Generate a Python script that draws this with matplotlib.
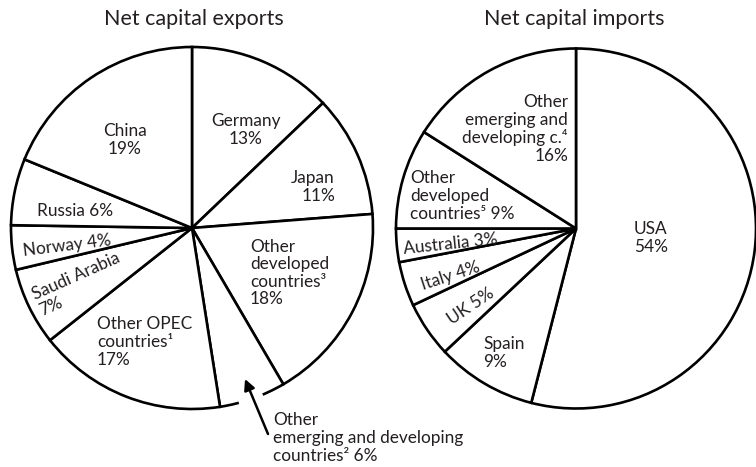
import matplotlib
matplotlib.use('Agg')
import matplotlib.pyplot as plt
from matplotlib.patches import Arc

plt.rcParams['font.family'] = ['Lato', 'DejaVu Sans']

# Net capital exports (clockwise from top)
export_labels = ['Germany', 'Japan', 'Other developed countries', 'Other emerging and developing countries',
                 'Other OPEC countries', 'Saudi Arabia', 'Norway', 'Russia', 'China']
export_shares = [13, 11, 18, 6, 17, 7, 4, 6, 19]

# Net capital imports (clockwise from top)
import_labels = ['USA', 'Spain', 'UK', 'Italy', 'Australia', 'Other developed countries',
                 'Other emerging and developing c.']
import_shares = [54, 9, 5, 4, 3, 9, 16]

W, H = 756, 467
fig = plt.figure(figsize=(W / 100, H / 100), dpi=100)
ax = fig.add_axes([0, 0, 1, 1])

ink = '#231f20'
wp = dict(edgecolor='black', linewidth=1.9, facecolor='white')

ax.pie(export_shares, startangle=90, counterclock=False, radius=181, center=(192, H - 228),
       wedgeprops=wp, frame=True)
ax.pie(import_shares, startangle=90, counterclock=False, radius=180, center=(576, H - 228.5),
       wedgeprops=wp, frame=True)

# gap in the outline where the arrow enters
ax.add_patch(Arc((192, H - 228), 362, 362, theta1=-75, theta2=-67, color='white', lw=4, zorder=5))

ax.set_xlim(0, W)
ax.set_ylim(0, H)
ax.set_aspect('auto')
ax.axis('off')


def t(x, y, s, ha='center', rot=0, size=12.4, **kw):
    ax.text(x, H - y, s, ha=ha, va='center', rotation=rot, fontsize=size, color=ink,
            linespacing=1.12, rotation_mode='anchor', **kw)


# titles
t(194, 19, 'Net capital exports', size=15.5)
t(574, 19, 'Net capital imports', size=15.5)

# left pie labels
t(125, 140, 'China\n19%')
t(246, 130, 'Germany\n13%')
t(335, 187, 'Japan\n11%', ha='right', multialignment='right')
t(75, 211, 'Russia 6%')
t(67, 246, 'Norway 4%', rot=7)
t(80, 284, 'Saudi Arabia\n7%', rot=24, multialignment='left')
t(97, 342, 'Other OPEC\ncountries¹\n17%', ha='left')
t(250, 273, 'Other\ndeveloped\ncountries³\n18%', ha='left')

ax.annotate('', xy=(245, H - 379), xytext=(268, H - 434),
            arrowprops=dict(arrowstyle='-|>', color='black', lw=1.8, mutation_scale=16,
                            shrinkA=0, shrinkB=0), zorder=6)
t(273, 438, 'Other\nemerging and developing\ncountries² 6%', ha='left')

# right pie labels
t(568, 129, 'Other\nemerging and\ndeveloping c.⁴\n16%', ha='right', multialignment='right')
t(410, 196, 'Other\ndeveloped\ncountries⁵ 9%', ha='left')
t(634, 238, 'USA\n54%', ha='left')
t(451, 244, 'Australia 3%', rot=6)
t(450, 276, 'Italy 4%', rot=18)
t(471, 306, 'UK 5%', rot=34)
t(483, 353, 'Spain\n9%', ha='left')

fig.savefig('out.png', dpi=100, facecolor='white')
